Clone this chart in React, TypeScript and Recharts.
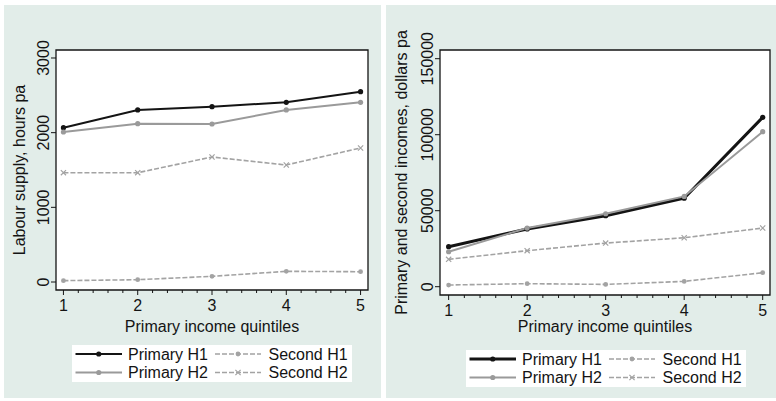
import React from 'react';
import { LineChart, Line, XAxis, YAxis, CartesianGrid, ReferenceArea, Legend, Label } from 'recharts';

// ---------- data ----------
const quintiles = [1, 2, 3, 4, 5];
const xTicksAll = [1, 1.2, 1.4, 1.6, 1.8, 2, 2.2, 2.4, 2.6, 2.8, 3, 3.2, 3.4, 3.6, 3.8, 4, 4.2, 4.4, 4.6, 4.8, 5];
const hoursTicks = [0, 1000, 2000, 3000];
const incomeTicks = [0, 50000, 100000, 150000];

const primaryH1Hours = [2067, 2304, 2348, 2406, 2549];
const primaryH2Hours = [2009, 2120, 2116, 2304, 2406];
const secondH1Hours = [18, 31, 76, 143, 138];
const secondH2Hours = [1464, 1464, 1674, 1567, 1795];

const primaryH1Income = [26300, 38000, 46700, 58200, 111400];
const primaryH2Income = [23000, 38600, 48000, 59400, 102000];
const secondH1Income = [1100, 2000, 1500, 3500, 9200];
const secondH2Income = [18000, 23700, 28700, 32200, 38600];

const seriesNames = { p1: 'Primary H1', p2: 'Primary H2', s1: 'Second H1', s2: 'Second H2' };

const hoursData = quintiles.map((q, i) => ({
  q,
  p1: primaryH1Hours[i],
  p2: primaryH2Hours[i],
  s1: secondH1Hours[i],
  s2: secondH2Hours[i],
}));
const incomeData = quintiles.map((q, i) => ({
  q,
  p1: primaryH1Income[i],
  p2: primaryH2Income[i],
  s1: secondH1Income[i],
  s2: secondH2Income[i],
}));

// ---------- styles ----------
const FONT = '"Liberation Sans", Arial, Helvetica, sans-serif';
const PANEL_BG = '#e2ede9';
const BLACK = '#141414';
const GRAY = '#9a9a9a';
const LGRAY = '#a3a3a3';

type SeriesStyle = { color: string; width: number; dash?: string; marker: 'dot' | 'x'; r: number };

const makeStyles = (h1Width: number): Record<string, SeriesStyle> => ({
  p1: { color: BLACK, width: h1Width, marker: 'dot', r: 2.6 },
  p2: { color: GRAY, width: 2, marker: 'dot', r: 2.6 },
  s1: { color: LGRAY, width: 1.6, dash: '5 2', marker: 'dot', r: 2.4 },
  s2: { color: LGRAY, width: 1.6, dash: '5 2', marker: 'x', r: 2.6 },
});

const Marker = ({ cx, cy, st }: { cx: number; cy: number; st: SeriesStyle }) => {
  if (st.marker === 'x') {
    const s = st.r;
    return (
      <path
        d={`M${cx - s},${cy - s}L${cx + s},${cy + s}M${cx - s},${cy + s}L${cx + s},${cy - s}`}
        stroke={st.color}
        strokeWidth={1.2}
        fill="none"
      />
    );
  }
  return <circle cx={cx} cy={cy} r={st.r} fill={st.color} stroke="none" />;
};

const makeDot = (st: SeriesStyle) => (props: any) => {
  const { cx, cy, index } = props;
  if (cx == null || cy == null) return <g key={`d${index}`} />;
  return (
    <g key={`d${index}`}>
      <Marker cx={cx} cy={cy} st={st} />
    </g>
  );
};

const XTick = (props: any) => {
  const { x, y, payload } = props;
  const v = payload.value as number;
  const major = Math.abs(v - Math.round(v)) < 1e-6;
  return (
    <g>
      <line x1={x} y1={y} x2={x} y2={y + (major ? 5 : 3)} stroke={BLACK} strokeWidth={1} />
      {major && (
        <text x={x} y={y + 21} textAnchor="middle" fontSize={16} fontFamily={FONT} fill={BLACK}>
          {Math.round(v)}
        </text>
      )}
    </g>
  );
};

const YTick = (props: any) => {
  const { x, y, payload } = props;
  const tx = x - 12;
  return (
    <g>
      <line x1={x} y1={y} x2={x - 5} y2={y} stroke={BLACK} strokeWidth={1} />
      <text
        x={tx}
        y={y}
        transform={`rotate(-90, ${tx}, ${y})`}
        textAnchor="middle"
        dominantBaseline="central"
        fontSize={16}
        fontFamily={FONT}
        fill={BLACK}
      >
        {payload.value}
      </text>
    </g>
  );
};

const makeYTitle = (text: string, offset: number) => (props: any) => {
  const vb = props.viewBox || {};
  const x = vb.x + vb.width - offset;
  const y = vb.y + vb.height / 2;
  return (
    <text
      x={x}
      y={y}
      transform={`rotate(-90, ${x}, ${y})`}
      textAnchor="middle"
      dominantBaseline="central"
      fontSize={16}
      fontFamily={FONT}
      fill={BLACK}
    >
      {text}
    </text>
  );
};

const makeXTitle = (text: string, dy: number) => (props: any) => {
  const vb = props.viewBox || {};
  return (
    <text x={vb.x + vb.width / 2} y={vb.y + dy} textAnchor="middle" fontSize={16} fontFamily={FONT} fill={BLACK}>
      {text}
    </text>
  );
};

const makeLegend = (styles: Record<string, SeriesStyle>) => (props: any) => {
  const payload: any[] = props.payload || [];
  const rows = [9, 27.5];
  const cols = [
    { l1: 3.5, l2: 50, t: 56 },
    { l1: 143, l2: 189, t: 196.5 },
  ];
  return (
    <svg width={280} height={37} style={{ display: 'block' }}>
      <rect x={0} y={0} width={280} height={37} fill="#ffffff" />
      {payload.map((entry, i) => {
        const key = entry.dataKey as string;
        const st = styles[key];
        const row = rows[i % 2];
        const col = cols[Math.floor(i / 2)];
        const mid = (col.l1 + col.l2) / 2;
        return (
          <g key={key}>
            <line
              x1={col.l1}
              y1={row}
              x2={col.l2}
              y2={row}
              stroke={st.color}
              strokeWidth={st.width}
              strokeDasharray={st.dash}
            />
            <Marker cx={mid} cy={row} st={st} />
            <text x={col.t} y={row} dominantBaseline="central" fontSize={16} fontFamily={FONT} fill={BLACK}>
              {entry.value}
            </text>
          </g>
        );
      })}
    </svg>
  );
};

type PanelProps = {
  data: any[];
  width: number;
  height: number;
  margin: { top: number; right: number; left: number; bottom: number };
  yWidth: number;
  xHeight: number;
  xDomain: [number, number];
  yDomain: [number, number];
  yTicks: number[];
  yTitle: string;
  yTitleOffset: number;
  xTitleDy: number;
  h1Width: number;
  legendPos: { left: number; top: number };
};

const Panel = (p: PanelProps) => {
  const styles = makeStyles(p.h1Width);
  const keys = ['p1', 'p2', 's1', 's2'] as const;
  return (
    <LineChart width={p.width} height={p.height} data={p.data} margin={p.margin}>
      <CartesianGrid horizontal={false} vertical={false} fill="#ffffff" stroke="none" />
      <XAxis
        type="number"
        dataKey="q"
        domain={p.xDomain}
        ticks={xTicksAll}
        interval={0}
        allowDataOverflow
        tick={<XTick />}
        tickLine={false}
        tickSize={0}
        tickMargin={0}
        axisLine={false}
        height={p.xHeight}
      >
        <Label content={makeXTitle('Primary income quintiles', p.xTitleDy)} />
      </XAxis>
      <YAxis
        type="number"
        domain={p.yDomain}
        ticks={p.yTicks}
        interval={0}
        allowDataOverflow
        tick={<YTick />}
        tickLine={false}
        tickSize={0}
        tickMargin={0}
        axisLine={false}
        width={p.yWidth}
      >
        <Label content={makeYTitle(p.yTitle, p.yTitleOffset)} />
      </YAxis>
      {keys.map((k) => {
        const st = styles[k];
        return (
          <Line
            key={k}
            type="linear"
            dataKey={k}
            name={seriesNames[k]}
            stroke={st.color}
            strokeWidth={st.width}
            strokeDasharray={st.dash}
            dot={makeDot(st)}
            activeDot={false}
            isAnimationActive={false}
          />
        );
      })}
      <ReferenceArea
        x1={p.xDomain[0]}
        x2={p.xDomain[1]}
        y1={p.yDomain[0]}
        y2={p.yDomain[1]}
        fill="none"
        stroke={BLACK}
        strokeWidth={1.3}
        ifOverflow="visible"
      />
      <Legend
        layout="horizontal"
        verticalAlign="middle"
        align="center"
        content={makeLegend(styles)}
        wrapperStyle={{ left: p.legendPos.left, top: p.legendPos.top, width: 280, height: 37 }}
      />
    </LineChart>
  );
};

export default function App() {
  return (
    <div
      style={{
        position: 'absolute',
        left: 0,
        top: 0,
        width: 776,
        height: 401,
        background: '#ffffff',
        fontFamily: FONT,
        overflow: 'hidden',
      }}
    >
      <div style={{ position: 'absolute', left: 4, top: 5, width: 377, height: 393, background: PANEL_BG }}>
        <Panel
          data={hoursData}
          width={377}
          height={393}
          margin={{ top: 45, right: 13, left: 0, bottom: 48 }}
          yWidth={52}
          xHeight={60}
          xDomain={[0.9, 5.1]}
          yDomain={[-107, 3107]}
          yTicks={hoursTicks}
          yTitle="Labour supply, hours pa"
          yTitleOffset={37}
          xTitleDy={42}
          h1Width={2}
          legendPos={{ left: 68, top: 340 }}
        />
      </div>
      <div style={{ position: 'absolute', left: 386, top: 5, width: 390, height: 393, background: PANEL_BG }}>
        <Panel
          data={incomeData}
          width={390}
          height={393}
          margin={{ top: 45, right: 6, left: 0, bottom: 43 }}
          yWidth={54}
          xHeight={60}
          xDomain={[0.89, 5.093]}
          yDomain={[-5460, 155720]}
          yTicks={incomeTicks}
          yTitle="Primary and second incomes, dollars pa"
          yTitleOffset={39}
          xTitleDy={37}
          h1Width={3}
          legendPos={{ left: 80, top: 345 }}
        />
      </div>
    </div>
  );
}
